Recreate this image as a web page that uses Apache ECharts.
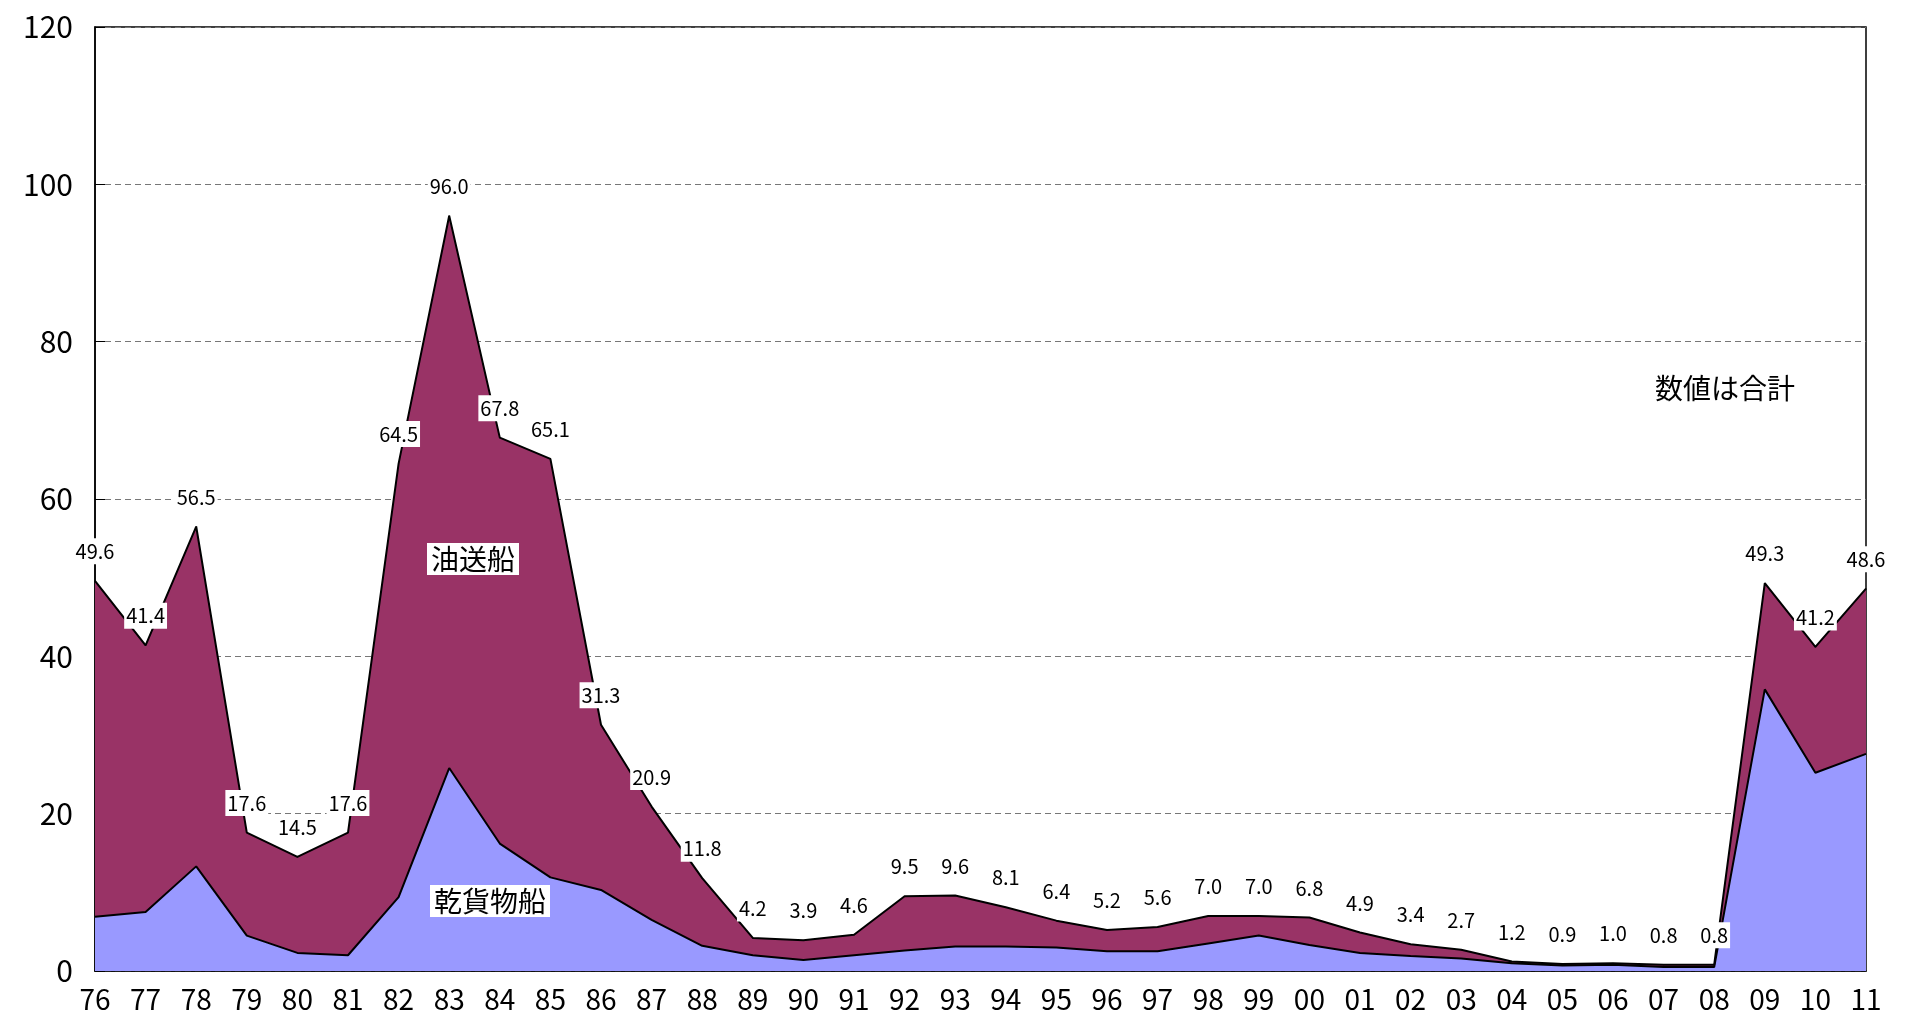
<!DOCTYPE html>
<html lang="ja">
<head>
<meta charset="UTF-8">
<title>Chart</title>
<script src="https://cdnjs.cloudflare.com/ajax/libs/echarts/6.0.0/echarts.min.js"></script>
<style>body{margin:0;background:#fff}</style>
</head>
<body>
<div id="main" style="width:1908px;height:1027px;"></div>
<script>
const years = ['76','77','78','79','80','81','82','83','84','85','86','87','88','89','90','91','92','93','94','95','96','97','98','99','00','01','02','03','04','05','06','07','08','09','10','11'];
const totals = [49.6,41.4,56.5,17.6,14.5,17.6,64.5,96.0,67.8,65.1,31.3,20.9,11.8,4.2,3.9,4.6,9.5,9.6,8.1,6.4,5.2,5.6,7.0,7.0,6.8,4.9,3.4,2.7,1.2,0.9,1.0,0.8,0.8,49.3,41.2,48.6];
const dryCargo = [6.9,7.5,13.3,4.5,2.3,2.0,9.4,25.8,16.2,11.9,10.3,6.5,3.2,2.0,1.4,2.0,2.6,3.1,3.1,3.0,2.5,2.5,3.5,4.5,3.3,2.3,1.9,1.6,1.0,0.7,0.8,0.5,0.5,35.8,25.2,27.6];
const tanker = totals.map((t, i) => +(t - dryCargo[i]).toFixed(1));

const chart = echarts.init(document.getElementById('main'));
const font = "'Noto Sans CJK JP', sans-serif";
chart.setOption({
  animation: false,
  textStyle: { fontFamily: font },
  grid: { left: 95, right: 42, top: 27, bottom: 56, show: true, borderColor: '#000', borderWidth: 1.5 },
  xAxis: {
    type: 'category', data: years, boundaryGap: false,
    axisLine: { lineStyle: { color: '#000', width: 1.5 } },
    axisTick: { show: false },
    axisLabel: { color: '#000', fontSize: 28, margin: 14, interval: 0 }
  },
  yAxis: {
    type: 'value', min: 0, max: 120, interval: 20,
    axisLine: { show: true, lineStyle: { color: '#000', width: 1.5 } },
    axisTick: { show: true, inside: true, length: 10, lineStyle: { color: '#000' } },
    axisLabel: { color: '#000', fontSize: 30, margin: 22 },
    splitLine: { lineStyle: { color: '#777', type: [6, 4] } }
  },
  series: [
    {
      name: '乾貨物船', type: 'line', stack: 'a', data: dryCargo, symbol: 'none',
      lineStyle: { color: '#000', width: 2 },
      areaStyle: { color: '#9999ff', opacity: 1 }
    },
    {
      name: '油送船', type: 'line', stack: 'a', data: tanker,
      symbol: 'circle', symbolSize: 1, itemStyle: { color: '#000' },
      lineStyle: { color: '#000', width: 2 },
      areaStyle: { color: '#993366', opacity: 1 },
      label: {
        show: true, position: 'top', distance: 16,
        formatter: p => totals[p.dataIndex].toFixed(1),
        color: '#000', fontSize: 20, backgroundColor: '#fff', padding: [3, 2]
      },
      z: 3
    }
  ],
  graphic: [
    { type: 'text', z: 100, left: 427, top: 543, style: { text: '油送船', fontSize: 28, fill: '#000', backgroundColor: '#fff', padding: [2, 4], fontFamily: font } },
    { type: 'text', z: 100, left: 430, top: 885, style: { text: '乾貨物船', fontSize: 28, fill: '#000', backgroundColor: '#fff', padding: [2, 4], fontFamily: font } },
    { type: 'text', z: 100, left: 1655, top: 374, style: { text: '数値は合計', fontSize: 28, fill: '#000', fontFamily: font } }
  ]
});
</script>
</body>
</html>
